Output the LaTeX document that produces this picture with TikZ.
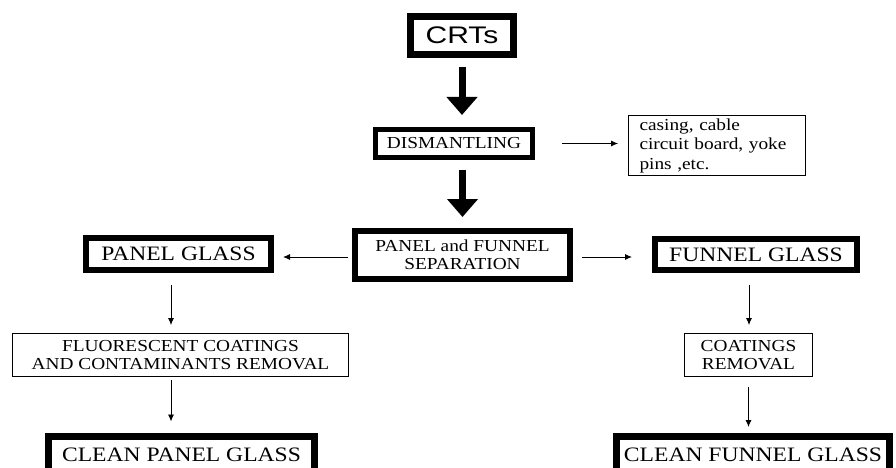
\documentclass[tikz,border=0pt]{standalone}
\usepackage{fontspec}
\setmainfont[FakeStretch=1.15]{Liberation Serif}
\newfontfamily\crtfont[FakeStretch=1.25]{Liberation Sans}
\usetikzlibrary{arrows.meta}

\begin{document}
\begin{tikzpicture}[x=1pt,y=-1pt,>={Latex[length=7pt,width=6pt]},line join=miter,
	bbox/.style={draw,inner sep=0pt,align=center,font=\fontsize{16.8}{18}\selectfont},
	tbox/.style={bbox,line width=0.8pt},
	big/.style={font=\fontsize{20.5}{22}\selectfont},
	fat/.style={line width=7pt,-{Triangle[length=18pt,width=30pt]}},
	thin/.style={line width=0.9pt,->}]
	\useasboundingbox (0,0) rectangle (896,468);
	% boxes
	\node[bbox,line width=7pt,minimum width=103pt,minimum height=38pt,font=\crtfont\fontsize{24}{24}\selectfont] (crt) at (462,35.5) {CRTs};
	\node[bbox,line width=5pt,minimum width=157pt,minimum height=28pt] (dism) at (454,143.5) {DISMANTLING};
	\node[tbox,align=left,inner xsep=11pt,text width=155pt,minimum height=60pt,font=\fontsize{16.8}{19.5}\selectfont] (parts) at (717,145.5) {casing, cable\\circuit board, yoke\\pins ,etc.};
	\node[bbox,line width=6pt,minimum width=215pt,minimum height=48pt] (sep) at (462.5,255) {PANEL and FUNNEL\\SEPARATION};
	\node[bbox,big,line width=6pt,minimum width=185pt,minimum height=32pt] (pglass) at (178.5,254) {PANEL GLASS};
	\node[bbox,big,line width=6pt,minimum width=202pt,minimum height=31pt] (fglass) at (756,254.5) {FUNNEL GLASS};
	\node[tbox,minimum width=336pt,minimum height=43pt] (fluor) at (180.5,355) {FLUORESCENT COATINGS\\AND CONTAMINANTS REMOVAL};
	\node[tbox,minimum width=128pt,minimum height=43pt] (coat) at (748.5,355) {COATINGS\\REMOVAL};
	\node[bbox,big,line width=7pt,minimum width=266pt,minimum height=38pt] (cpglass) at (181.5,455) {CLEAN PANEL GLASS};
	\node[bbox,big,line width=7pt,minimum width=273pt,minimum height=37pt] (cfglass) at (753,455) {CLEAN FUNNEL GLASS};
	% arrows
	\draw[fat,shorten <=9pt,shorten >=12pt] (crt) -- (dism.north -| crt);
	\draw[fat,shorten <=10pt,shorten >=11pt] (dism.south -| sep) -- (sep);
	\draw[thin,shorten <=27pt,shorten >=10pt] (dism.east) -- (dism.east -| parts.west);
	\draw[thin,shorten <=4pt,shorten >=9pt] ([yshift=-2pt]sep.west) -- ([yshift=-2pt]sep.west -| pglass.east);
	\draw[thin,shorten <=9pt,shorten >=20pt] ([yshift=-2pt]sep.east) -- ([yshift=-2pt]sep.east -| fglass.west);
	\draw[thin,shorten <=12pt,shorten >=8pt] ([xshift=-7.5pt]pglass.south) -- ([xshift=-7.5pt]pglass.south |- fluor.north);
	\draw[thin,shorten <=3pt,shorten >=11pt] ([xshift=-9.5pt]fluor.south) -- ([xshift=-9.5pt]fluor.south |- cpglass.north);
	\draw[thin,shorten <=12pt,shorten >=8pt] ([xshift=-7pt]fglass.south) -- ([xshift=-7pt]fglass.south |- coat.north);
	\draw[thin,shorten <=10pt,shorten >=6pt] (coat.south) -- (coat.south |- cfglass.north);
\end{tikzpicture}
\end{document}
